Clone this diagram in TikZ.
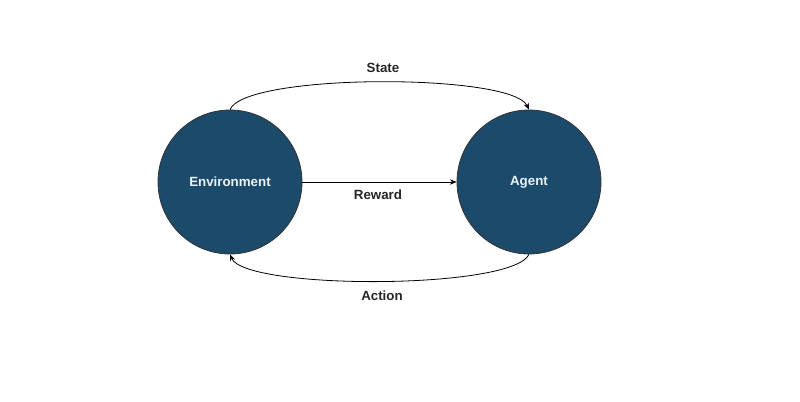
\documentclass[tikz,border=0pt]{standalone}
\usepackage{fontspec}
\setmainfont{Liberation Sans}
\usetikzlibrary{arrows.meta}
\definecolor{nodefill}{HTML}{1B4A6B}
\definecolor{nodetext}{HTML}{EAF2F8}
\tikzset{
  stnode/.style={circle, draw=black!80, line width=0.6pt, fill=nodefill, minimum size=108pt, inner sep=0pt, text=nodetext, font=\bfseries\fontsize{10}{12}\selectfont},
  conn/.style={line width=0.6pt, -{Stealth[length=5pt,width=4pt]}},
  lbl/.style={font=\bfseries\fontsize{10}{12}\selectfont, text=black!85}
}
\begin{document}
\begin{tikzpicture}[x=0.75pt,y=-0.75pt]
\useasboundingbox (0,0) rectangle (800,401);
\node[stnode] (env) at (230,182) {Environment};
\node[stnode] (agent) at (529,182) {Agent};
\draw[conn] (env.east) -- (agent.west);
\draw[conn] (env.north) .. controls (245,73) and (512,73) .. (agent.north);
\draw[conn] (agent.south) .. controls (512,290) and (245,290) .. (env.south);
\node[lbl] (state) at (383,68) {State};
\node[lbl] (reward) at (378,195) {Reward};
\node[lbl] (action) at (382,296) {Action};
\end{tikzpicture}
\end{document}
